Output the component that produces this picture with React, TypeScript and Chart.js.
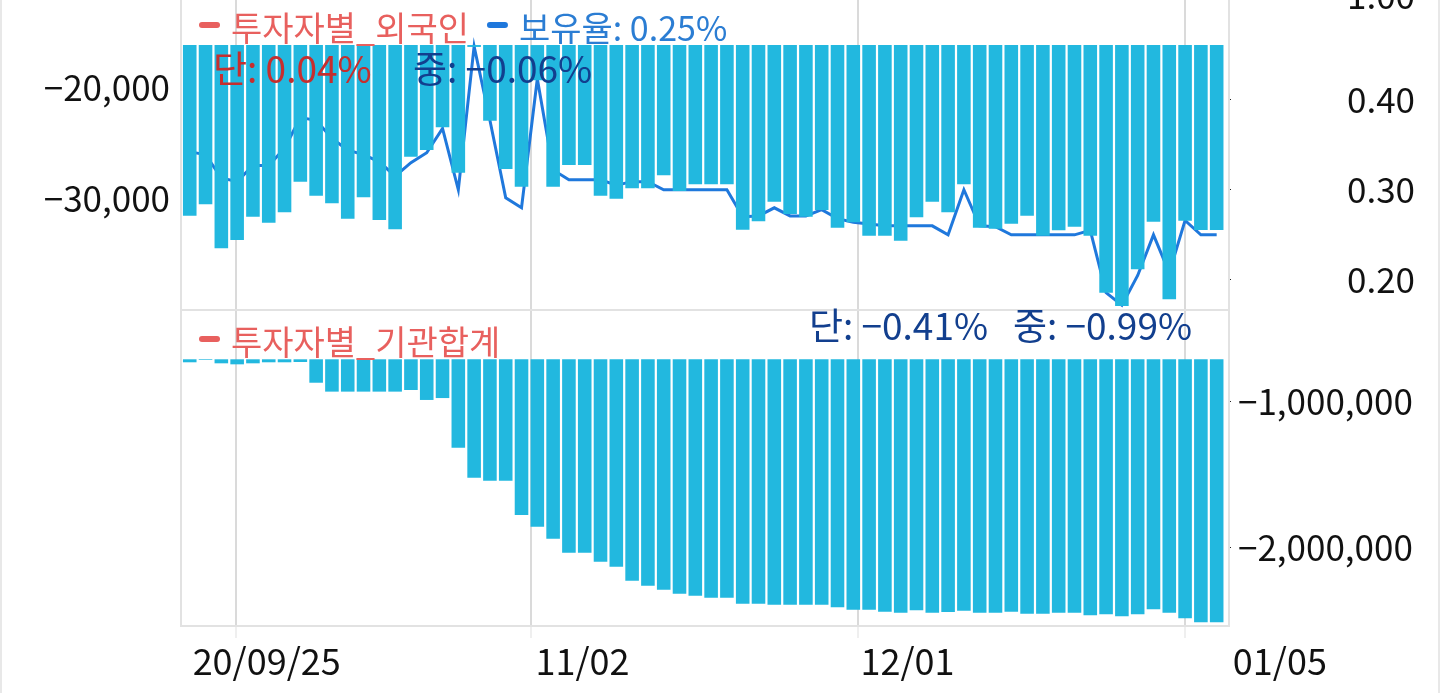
import { useEffect, useRef } from 'react';
import { Chart, registerables } from 'chart.js';

Chart.register(...registerables);

const FONT = "'Noto Sans CJK KR', 'Noto Sans', sans-serif";

// ---- data (index = trading day) ----
const foreignNet = [
  -31505, -30477, -34441, -33694, -31595, -32135, -31198, -28441, -29703, -30387,
  -31775, -29847, -31892, -32730, -26189, -25586, -23541, -27631, -16300, -22946,
  -27297, -28892, -19300, -28892, -26937, -26937, -29703, -29973, -29036, -29036,
  -27865, -29279, -28676, -28676, -28676, -32766, -32009, -30243, -31351, -31595,
  -30991, -32586, -32099, -33306, -33306, -33757, -31649, -30243, -31198, -28676,
  -32586, -32676, -32225, -31505, -33306, -32820, -32495, -33306, -38441, -39640,
  -36333, -32045, -39036, -31955, -32793, -32793,
];

const holdRatio = [
  0.342, 0.339, 0.313, 0.309, 0.327, 0.327, 0.346, 0.380, 0.377, 0.357,
  0.344, 0.339, 0.331, 0.315, 0.330, 0.341, 0.368, 0.300, 0.459, 0.377,
  0.291, 0.280, 0.423, 0.322, 0.311, 0.311, 0.311, 0.305, 0.309, 0.309,
  0.300, 0.300, 0.300, 0.300, 0.300, 0.270, 0.271, 0.280, 0.271, 0.271,
  0.278, 0.268, 0.264, 0.262, 0.260, 0.260, 0.260, 0.260, 0.250, 0.300,
  0.260, 0.259, 0.250, 0.250, 0.250, 0.250, 0.250, 0.255, 0.186, 0.172,
  0.205, 0.250, 0.208, 0.266, 0.250, 0.250,
];

const instNet = [
  -728000, -712000, -735000, -742000, -735000, -728000, -728000, -726000, -868000, -929000,
  -929000, -929000, -929000, -929000, -918000, -986000, -973000, -1313000, -1518000, -1539000,
  -1539000, -1774000, -1854000, -1936000, -2032000, -2032000, -2094000, -2128000, -2224000, -2258000,
  -2286000, -2313000, -2327000, -2340000, -2340000, -2382000, -2382000, -2388000, -2388000, -2388000,
  -2388000, -2406000, -2423000, -2423000, -2436000, -2443000, -2427000, -2443000, -2438000, -2429000,
  -2443000, -2443000, -2436000, -2450000, -2450000, -2443000, -2443000, -2461000, -2454000, -2468000,
  -2454000, -2420000, -2443000, -2482000, -2509000, -2509000,
];

const foreignBase = -16130;
const instBase = -707500;

// ---- ticks / labels ----
const foreignTicks = [-30000, -20000];
const ratioTicks = [0.2, 0.3, 0.4];
const ratioTopLabel = '1.00';
const instTicks = [-2000000, -1000000];
const instLeftTicks = [1, 2];

const xGridPos = [2.91, 21.6, 42.28, 62.99];
const xLabelPos = [4.87, 24.86, 45.43, 69.0];
const xLabels = ['20/09/25', '11/02', '12/01', '01/05'];

const topLegend = [
  { text: '투자자별_외국인', mark: '#e8605e', color: '#e8605e' },
  { text: '보유율: 0.25%', mark: '#1f78dc', color: '#2b7dd3' },
];
const topInfo = [
  { text: '단: 0.04%', color: '#c62e2e' },
  { text: '중: \u22120.06%', color: '#123f8e' },
];
const bottomLegend = [{ text: '투자자별_기관합계', mark: '#e8605e', color: '#e8605e' }];
const bottomInfo = { text: '단: \u22120.41%   중: \u22120.99%', color: '#123f8e' };

const BAR_COLOR = '#22b8df';
const LINE_COLOR = '#1f78dc';

const X_MIN = -0.49;
const X_MAX = 65.78;

const fmtNum = (v: number) => (v < 0 ? '\u2212' : '') + Math.abs(v).toLocaleString('en-US');

function roundRect(ctx: CanvasRenderingContext2D, x: number, y: number, w: number, h: number, r: number) {
  ctx.beginPath();
  ctx.moveTo(x + r, y);
  ctx.lineTo(x + w - r, y);
  ctx.arc(x + w - r, y + r, r, -Math.PI / 2, Math.PI / 2);
  ctx.lineTo(x + r, y + h);
  ctx.arc(x + r, y + r, r, Math.PI / 2, (Math.PI * 3) / 2);
  ctx.closePath();
  ctx.fill();
}

function drawLegend(ctx: CanvasRenderingContext2D, a: any, items: { text: string; mark: string; color: string }[]) {
  let x = a.left + 17;
  ctx.font = `34px ${FONT}`;
  ctx.textAlign = 'left';
  ctx.textBaseline = 'alphabetic';
  items.forEach((it) => {
    ctx.fillStyle = it.mark;
    roundRect(ctx, x, a.top + 26, 21, 6, 3);
    x += 32;
    ctx.fillStyle = it.color;
    ctx.fillText(it.text, x, a.top + 45);
    x += ctx.measureText(it.text).width + 18;
  });
}

const framePlugin = {
  id: 'frame',
  beforeDatasetsDraw(chart: any) {
    const { ctx, chartArea: a } = chart;
    ctx.save();
    ctx.strokeStyle = '#e2e2e2';
    ctx.lineWidth = 2;
    ctx.strokeRect(a.left - 1, a.top, a.right - a.left + 1, a.bottom - a.top);
    ctx.restore();
  },
};

const topTextPlugin = {
  id: 'topText',
  afterDatasetsDraw(chart: any) {
    const { ctx, chartArea: a } = chart;
    ctx.save();
    drawLegend(ctx, a, topLegend);
    ctx.font = `37px ${FONT}`;
    ctx.fillStyle = topInfo[0].color;
    ctx.fillText(topInfo[0].text, a.left + 31, a.top + 87);
    ctx.fillStyle = topInfo[1].color;
    ctx.fillText(topInfo[1].text, a.left + 231, a.top + 87);
    ctx.restore();
  },
};

const bottomTextPlugin = {
  id: 'bottomText',
  afterDatasetsDraw(chart: any) {
    const { ctx, chartArea: a, scales } = chart;
    ctx.save();
    drawLegend(ctx, a, bottomLegend);
    ctx.font = `37px ${FONT}`;
    ctx.textAlign = 'right';
    ctx.fillStyle = bottomInfo.color;
    ctx.fillText(bottomInfo.text, a.right - 37, a.top + 30);
    // x-axis date labels
    ctx.font = `36px ${FONT}`;
    ctx.textAlign = 'center';
    ctx.fillStyle = '#111';
    xLabels.forEach((lab, i) => {
      ctx.fillText(lab, scales.x.getPixelForValue(xLabelPos[i]), a.bottom + 49);
    });
    ctx.restore();
  },
};

const xAxis = (tickLength: number) => ({
  type: 'linear' as const,
  min: X_MIN,
  max: X_MAX,
  offset: false,
  bounds: 'data' as const,
  afterBuildTicks: (s: any) => {
    s.ticks = xGridPos.map((v) => ({ value: v }));
  },
  afterFit: (s: any) => {
    s.height = 0;
  },
  ticks: { display: false },
  grid: {
    offset: false,
    color: '#dadada',
    lineWidth: 2,
    drawTicks: tickLength > 0,
    tickLength,
    tickColor: '#efefef',
  },
  border: { display: false },
});

const yAxis = (
  position: 'left' | 'right',
  min: number,
  max: number,
  ticks: (s: any) => number[],
  label: (v: number) => string,
  width: number,
  padding: number,
) => ({
  type: 'linear' as const,
  position,
  min,
  max,
  afterBuildTicks: (s: any) => {
    s.ticks = ticks(s).map((v) => ({ value: v }));
  },
  afterFit: (s: any) => {
    s.width = width;
    s.paddingTop = 0;
    s.paddingBottom = 0;
  },
  ticks: {
    font: { family: FONT, size: 35 },
    color: '#111',
    padding,
    autoSkip: false,
    callback: (v: any) => label(Number(v)),
  },
  grid: { drawOnChartArea: false, drawTicks: true, tickLength: 2, tickColor: '#222', tickWidth: 1 },
  border: { display: false },
});

const RATIO_MIN = 0.1667;
const RATIO_MAX = 0.5148;

export default function App() {
  const topRef = useRef<HTMLCanvasElement>(null);
  const botRef = useRef<HTMLCanvasElement>(null);

  useEffect(() => {
    const c1 = new Chart(topRef.current!, {
      type: 'bar',
      data: {
        datasets: [
          {
            type: 'bar',
            data: foreignNet.map((y, i) => ({ x: i, y })),
            backgroundColor: BAR_COLOR,
            borderWidth: 0,
            base: foreignBase,
            barPercentage: 1,
            categoryPercentage: 0.86,
            xAxisID: 'x',
            yAxisID: 'yL',
            order: 1,
          } as any,
          {
            type: 'line',
            data: holdRatio.map((y, i) => ({ x: i, y })),
            borderColor: LINE_COLOR,
            borderWidth: 3,
            pointRadius: 0,
            tension: 0,
            xAxisID: 'x',
            yAxisID: 'yR',
            order: 2,
          } as any,
        ],
      },
      options: {
        responsive: false,
        animation: false,
        events: [],
        layout: { padding: { top: 26, bottom: 1, left: 0, right: 0 } },
        plugins: { legend: { display: false }, tooltip: { enabled: false } },
        scales: {
          x: xAxis(0),
          yL: yAxis('left', -40000, -11712, () => foreignTicks, fmtNum, 182, 10),
          yR: yAxis(
            'right',
            RATIO_MIN,
            RATIO_MAX,
            (s) => [...ratioTicks, s.max],
            (v) => (v === RATIO_MAX ? ratioTopLabel : v.toFixed(2)),
            211,
            116,
          ),
        } as any,
      },
      plugins: [framePlugin, topTextPlugin],
    });

    const c2 = new Chart(botRef.current!, {
      type: 'bar',
      data: {
        datasets: [
          {
            type: 'bar',
            data: instNet.map((y, i) => ({ x: i, y })),
            backgroundColor: BAR_COLOR,
            borderWidth: 0,
            base: instBase,
            barPercentage: 1,
            categoryPercentage: 0.86,
            xAxisID: 'x',
            yAxisID: 'yR',
          } as any,
        ],
      },
      options: {
        responsive: false,
        animation: false,
        events: [],
        layout: { padding: { top: 10, bottom: 67, left: 0, right: 0 } },
        plugins: { legend: { display: false }, tooltip: { enabled: false } },
        scales: {
          x: xAxis(12),
          yL: yAxis('left', 0.063, 3.093, () => instLeftTicks, () => '', 182, 10),
          yR: yAxis('right', -2534247, -369863, () => instTicks, fmtNum, 211, 7),
        } as any,
      },
      plugins: [framePlugin, bottomTextPlugin],
    });

    return () => {
      c1.destroy();
      c2.destroy();
    };
  }, []);

  return (
    <div
      style={{
        position: 'absolute',
        left: 0,
        top: 0,
        width: 1440,
        height: 693,
        overflow: 'hidden',
        background: '#fff',
      }}
    >
      <canvas
        ref={topRef}
        width={1440}
        height={341}
        style={{ position: 'absolute', left: 0, top: -30, display: 'block' }}
      />
      <canvas
        ref={botRef}
        width={1440}
        height={393}
        style={{ position: 'absolute', left: 0, top: 300, display: 'block' }}
      />
      <div style={{ position: 'absolute', left: 0, top: 0, width: 2, height: 693, background: '#e8e8e8' }} />
      <div style={{ position: 'absolute', right: 0, top: 0, width: 2, height: 693, background: '#e8e8e8' }} />
    </div>
  );
}
